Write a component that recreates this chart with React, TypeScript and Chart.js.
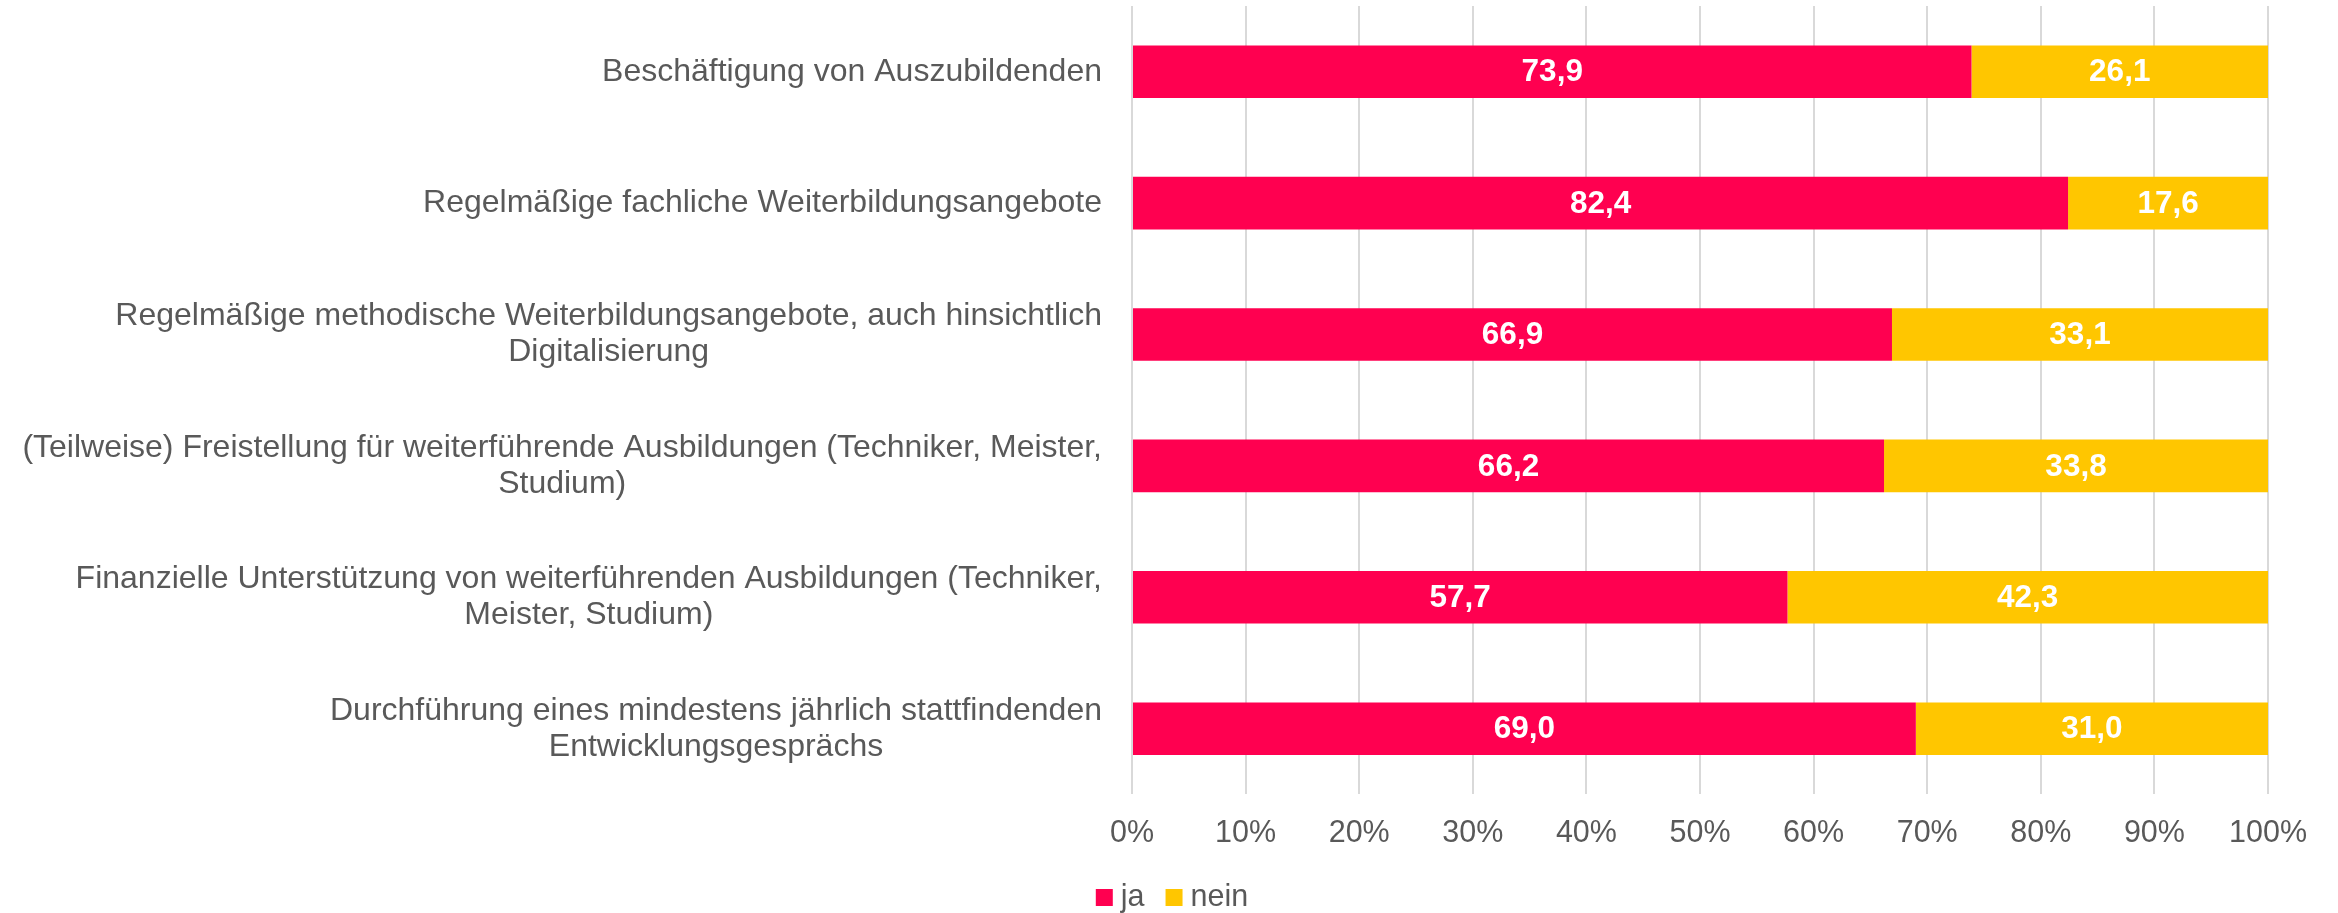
import React, { useEffect, useRef } from 'react';
import { Chart, registerables } from 'chart.js';

Chart.register(...registerables);

const categories: string[][] = [
  ['Beschäftigung von Auszubildenden'],
  ['Regelmäßige fachliche Weiterbildungsangebote'],
  ['Regelmäßige methodische Weiterbildungsangebote, auch hinsichtlich', 'Digitalisierung'],
  ['(Teilweise) Freistellung für weiterführende Ausbildungen (Techniker, Meister,', 'Studium)'],
  ['Finanzielle Unterstützung von weiterführenden Ausbildungen (Techniker,', 'Meister, Studium)'],
  ['Durchführung eines mindestens jährlich stattfindenden', 'Entwicklungsgesprächs'],
];

const jaValues = [73.9, 82.4, 66.9, 66.2, 57.7, 69.0];
const neinValues = [26.1, 17.6, 33.1, 33.8, 42.3, 31.0];
const seriesNames = ['ja', 'nein'];
const seriesColors = ['#FF0050', '#FFC600'];
const xTickValues = [0, 10, 20, 30, 40, 50, 60, 70, 80, 90, 100];

const FONT = "'Liberation Sans', Arial, sans-serif";
const TEXT_COLOR = '#595959';
const FONT_SIZE = 30.5;
const LABEL_FONT_SIZE = 32;
const VALUE_FONT_SIZE = 31.5;

const fmt = (v: number) => v.toFixed(1).replace('.', ',');

const categoryLabelPlugin = {
  id: 'categoryLabels',
  afterDraw(chart: any) {
    const { ctx, chartArea } = chart;
    const yScale = chart.scales.y;
    ctx.save();
    ctx.font = `${LABEL_FONT_SIZE}px ${FONT}`;
    ctx.fillStyle = TEXT_COLOR;
    ctx.textBaseline = 'middle';
    ctx.textAlign = 'center';
    const right = chartArea.left - 30;
    const lineH = 36;
    categories.forEach((lines, i) => {
      const cy = yScale.getPixelForValue(i);
      const widest = Math.max(...lines.map((l) => ctx.measureText(l).width));
      const cx = right - widest / 2;
      lines.forEach((ln, j) => {
        ctx.fillText(ln, cx, cy + (j - (lines.length - 1) / 2) * lineH);
      });
    });
    ctx.restore();
  },
};

const dataLabelPlugin = {
  id: 'dataLabels',
  afterDatasetsDraw(chart: any) {
    const { ctx } = chart;
    ctx.save();
    ctx.font = `bold ${VALUE_FONT_SIZE}px ${FONT}`;
    ctx.fillStyle = '#FFFFFF';
    ctx.textAlign = 'center';
    ctx.textBaseline = 'middle';
    chart.data.datasets.forEach((ds: any, i: number) => {
      const meta = chart.getDatasetMeta(i);
      meta.data.forEach((bar: any, j: number) => {
        const p = bar.getProps(['x', 'y', 'base'], true);
        ctx.fillText(fmt(ds.data[j]), (p.x + p.base) / 2, p.y + 1);
      });
    });
    ctx.restore();
  },
};

const legendPlugin = {
  id: 'customLegend',
  afterDraw(chart: any) {
    const { ctx } = chart;
    ctx.save();
    ctx.font = `${FONT_SIZE}px ${FONT}`;
    ctx.textBaseline = 'middle';
    ctx.textAlign = 'left';
    const box = 17;
    const gapText = 8;
    const gapItem = 21;
    const items = chart.data.datasets.map((ds: any) => ({
      label: ds.label,
      color: ds.backgroundColor,
      w: ctx.measureText(ds.label).width,
    }));
    const total = items.reduce((s: number, it: any) => s + box + gapText + it.w, 0) + gapItem * (items.length - 1);
    let x = chart.width / 2 - total / 2 + 3;
    const cy = 897;
    items.forEach((it: any) => {
      ctx.fillStyle = it.color;
      ctx.fillRect(x, cy - 8, box, box);
      x += box + gapText;
      ctx.fillStyle = TEXT_COLOR;
      ctx.fillText(it.label, x, cy + 1);
      x += it.w + gapItem;
    });
    ctx.restore();
  },
};

export default function App() {
  const canvasRef = useRef<HTMLCanvasElement | null>(null);

  useEffect(() => {
    const canvas = canvasRef.current;
    if (!canvas) return;
    const chart = new Chart(canvas, {
      type: 'bar',
      data: {
        labels: categories.map((c) => c.join(' ')),
        datasets: [
          {
            label: seriesNames[0],
            data: jaValues,
            backgroundColor: seriesColors[0],
            borderWidth: 0,
            categoryPercentage: 1,
            barPercentage: 0.4,
          },
          {
            label: seriesNames[1],
            data: neinValues,
            backgroundColor: seriesColors[1],
            borderWidth: 0,
            categoryPercentage: 1,
            barPercentage: 0.4,
          },
        ],
      },
      options: {
        indexAxis: 'y',
        responsive: false,
        animation: false,
        layout: { padding: { top: 6, right: 70, bottom: 40, left: 0 } },
        plugins: {
          legend: { display: false },
          tooltip: { enabled: false },
        },
        scales: {
          x: {
            stacked: true,
            min: 0,
            max: 100,
            afterBuildTicks: (scale: any) => {
              scale.ticks = xTickValues.map((v) => ({ value: v }));
            },
            ticks: {
              callback: (v: any) => `${v}%`,
              color: TEXT_COLOR,
              font: { family: FONT, size: FONT_SIZE },
              padding: 21,
              maxRotation: 0,
              autoSkip: false,
            },
            grid: { color: '#D9D9D9', lineWidth: 2, drawTicks: false },
            border: { display: false },
          },
          y: {
            stacked: true,
            ticks: { display: false },
            grid: { display: false, drawTicks: false },
            border: { display: false },
            afterFit: (scale: any) => {
              scale.width = 1132;
            },
          },
        },
      },
      plugins: [categoryLabelPlugin, dataLabelPlugin, legendPlugin],
    });
    return () => chart.destroy();
  }, []);

  return (
    <div style={{ position: 'absolute', left: 0, top: 0, width: 2338, height: 913, background: '#fff' }}>
      <canvas ref={canvasRef} width={2338} height={913} style={{ display: 'block' }} />
    </div>
  );
}
